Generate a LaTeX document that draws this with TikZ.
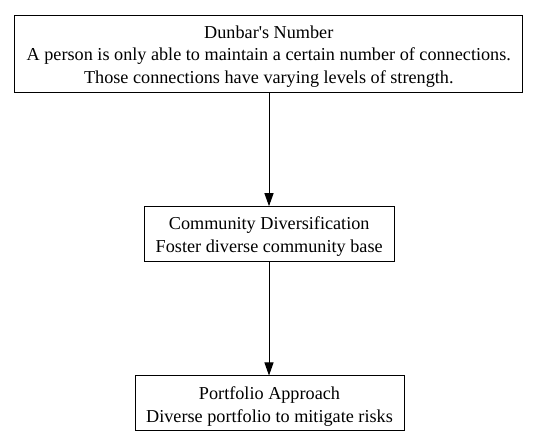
\documentclass[tikz,border=0pt]{standalone}
\usepackage{fontspec}
\setmainfont{Liberation Serif}
\usetikzlibrary{arrows.meta}
\newcommand\gvs{\rule[-3.2pt]{0pt}{21.4pt}}
\begin{document}
\begin{tikzpicture}[x=1pt,y=1pt,
  box/.style={draw, line width=1pt, inner sep=0pt, align=center,
    font=\fontsize{18.2}{21.4}\selectfont},
  link/.style={draw, line width=1pt, -{Triangle[length=13pt,width=9pt]}}]
\useasboundingbox (0,0) rectangle (539,447);
\node[box, minimum width=507.7, minimum height=76.6] (dunbar) at (268.8,393)
  {\gvs Dunbar\textquotesingle s Number\\\gvs A person is only able to maintain a certain number of connections.\\\gvs Those connections have varying levels of strength.};
\node[box, minimum width=249.7, minimum height=55] (comm) at (269.2,212.8)
  {\gvs Community Diversification\\\gvs Foster diverse community base};
\node[box, minimum width=269, minimum height=55] (port) at (269.5,43.5)
  {\gvs Portfolio Approach\\\gvs Diverse portfolio to mitigate risks};
\draw[link] (dunbar.south -| 269,0) -- (comm.north -| 269,0);
\draw[link] (comm.south -| 269,0) -- (port.north -| 269,0);
\end{tikzpicture}
\end{document}
